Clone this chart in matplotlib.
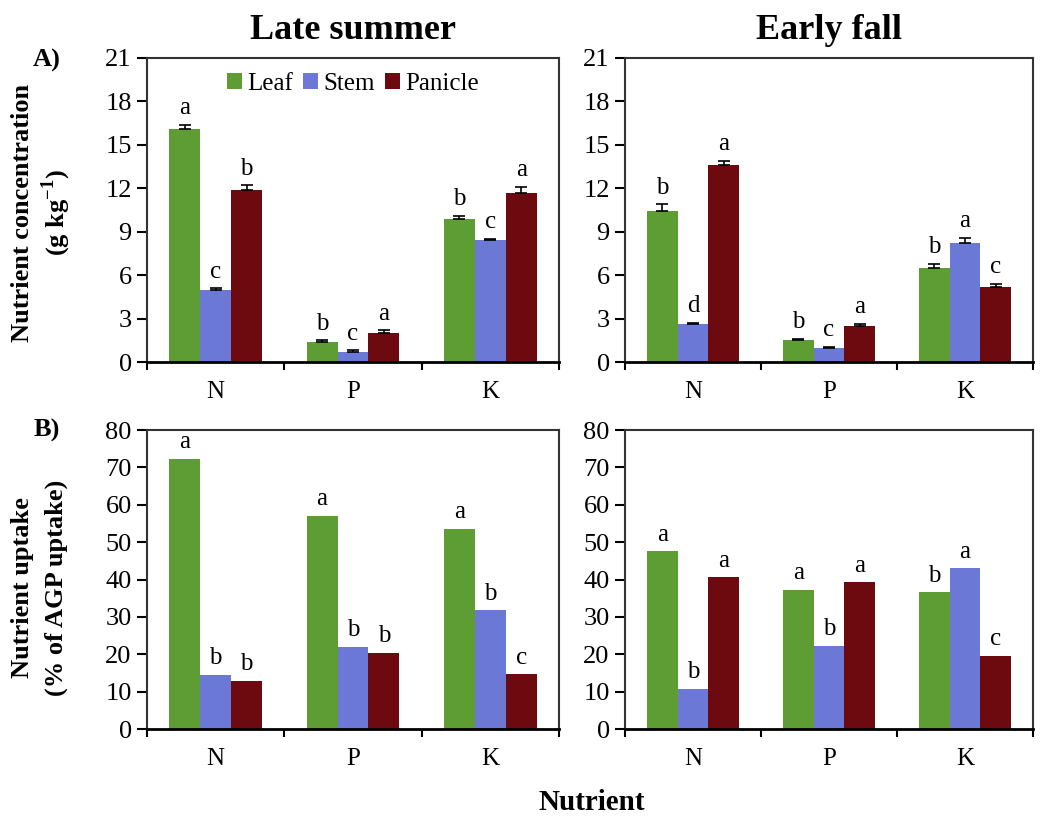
import matplotlib
matplotlib.use("Agg")
import matplotlib.pyplot as plt
import numpy as np

plt.rcParams['font.family'] = ['Liberation Serif', 'DejaVu Serif']
plt.rcParams['mathtext.fontset'] = 'custom'
plt.rcParams['mathtext.rm'] = 'Liberation Serif'
plt.rcParams['mathtext.bf'] = 'Liberation Serif:bold'

nutrients = ["N", "P", "K"]
organs = ["Leaf", "Stem", "Panicle"]
colors = ["#5e9c34", "#6b78d6", "#6c0a10"]

# Nutrient concentration (g kg-1)
conc_summer = {"Leaf": [16.1, 1.4, 9.9], "Stem": [5.0, 0.7, 8.4], "Panicle": [11.9, 2.0, 11.7]}
conc_summer_err = {"Leaf": [0.3, 0.1, 0.2], "Stem": [0.1, 0.1, 0.1], "Panicle": [0.3, 0.2, 0.4]}
conc_summer_let = {"Leaf": ["a", "b", "b"], "Stem": ["c", "c", "c"], "Panicle": ["b", "a", "a"]}

conc_fall = {"Leaf": [10.4, 1.5, 6.5], "Stem": [2.6, 1.0, 8.2], "Panicle": [13.6, 2.5, 5.2]}
conc_fall_err = {"Leaf": [0.5, 0.1, 0.3], "Stem": [0.1, 0.05, 0.4], "Panicle": [0.3, 0.15, 0.2]}
conc_fall_let = {"Leaf": ["b", "b", "b"], "Stem": ["d", "c", "a"], "Panicle": ["a", "a", "c"]}

# Nutrient uptake (% of AGP uptake)
upt_summer = {"Leaf": [72.3, 57.1, 53.5], "Stem": [14.5, 22.0, 31.8], "Panicle": [12.9, 20.4, 14.6]}
upt_summer_let = {"Leaf": ["a", "a", "a"], "Stem": ["b", "b", "b"], "Panicle": ["b", "b", "c"]}

upt_fall = {"Leaf": [47.6, 37.2, 36.6], "Stem": [10.7, 22.3, 43.0], "Panicle": [40.6, 39.3, 19.6]}
upt_fall_let = {"Leaf": ["a", "a", "b"], "Stem": ["b", "b", "a"], "Panicle": ["a", "a", "c"]}

fig = plt.figure(figsize=(10.5, 8.21), dpi=100)
W, H = 1050.0, 821.0


def mkax(l, r, t, b):
    return fig.add_axes([l / W, 1 - b / H, (r - l) / W, (b - t) / H])


ax_tl = mkax(147, 559, 58, 362)
ax_tr = mkax(625, 1033, 58, 362)
ax_bl = mkax(147, 559, 430, 729)
ax_br = mkax(625, 1033, 430, 729)

x = np.arange(len(nutrients))
bw = 0.225
offs = [-bw, 0, bw]


def draw(ax, vals, lets, errs, ymax, ystep, legend=False):
    for i, org in enumerate(organs):
        v = np.array(vals[org])
        e = np.array(errs[org]) if errs is not None else np.zeros(len(v))
        ax.bar(x + offs[i], v, bw, color=colors[i], label=org, zorder=2)
        if errs is not None:
            ax.errorbar(x + offs[i], v, yerr=[np.zeros(len(v)), e], fmt='none',
                        ecolor='black', elinewidth=1.2, capsize=4, capthick=1.2, zorder=3)
        for xi, vi, ei, li in zip(x + offs[i], v, e, lets[org]):
            ax.annotate(li, (xi, vi + ei), xytext=(0, 4), textcoords='offset points',
                        ha='center', va='bottom', fontsize=18)
    ax.set_xlim(-0.5, 2.5)
    ax.set_ylim(0, ymax)
    ax.set_yticks(np.arange(0, ymax + 0.1, ystep))
    ax.set_xticks(x)
    ax.set_xticklabels(nutrients)
    ax.set_xticks([-0.5, 0.5, 1.5, 2.5], minor=True)
    ax.tick_params(axis='x', which='major', length=0, pad=14, labelsize=18)
    ax.tick_params(axis='x', which='minor', length=6, width=1.5, direction='out')
    ax.tick_params(axis='y', which='major', length=7, width=1.5, direction='out',
                   labelsize=19, pad=4)
    for s in ax.spines.values():
        s.set_linewidth(1.5)
        s.set_color('#333333')
    ax.spines['bottom'].set_color('black')
    ax.spines['bottom'].set_linewidth(2)
    if legend:
        ax.legend(loc='upper center', bbox_to_anchor=(0.5, 1.0), ncol=3, frameon=False,
                  fontsize=18, handlelength=0.6, handleheight=0.6, handletextpad=0.2,
                  columnspacing=0.4, borderaxespad=0.2)


draw(ax_tl, conc_summer, conc_summer_let, conc_summer_err, 21, 3, legend=True)
draw(ax_tr, conc_fall, conc_fall_let, conc_fall_err, 21, 3)
draw(ax_bl, upt_summer, upt_summer_let, None, 80, 10)
draw(ax_br, upt_fall, upt_fall_let, None, 80, 10)

ax_tl.set_title("Late summer", fontsize=26, fontweight='bold', pad=14)
ax_tr.set_title("Early fall", fontsize=26, fontweight='bold', pad=14)

fig.text(23 / W, 1 - 213 / H, "Nutrient concentration", rotation=90, ha='center', va='center',
         fontsize=19, fontweight='bold')
fig.text(56 / W, 1 - 213 / H, r"(g kg$^{\mathbf{-1}}$)", rotation=90, ha='center', va='center',
         fontsize=19, fontweight='bold')
fig.text(23 / W, 1 - 588 / H, "Nutrient uptake", rotation=90, ha='center', va='center',
         fontsize=19, fontweight='bold')
fig.text(56 / W, 1 - 588 / H, "(% of AGP uptake)", rotation=90, ha='center', va='center',
         fontsize=19, fontweight='bold')
fig.text(47 / W, 1 - 60 / H, "A)", ha='center', va='center', fontsize=19, fontweight='bold')
fig.text(47 / W, 1 - 430 / H, "B)", ha='center', va='center', fontsize=19, fontweight='bold')
fig.text(592 / W, 1 - 802 / H, "Nutrient", ha='center', va='center', fontsize=21, fontweight='bold')

fig.savefig("out.png", dpi=100)
